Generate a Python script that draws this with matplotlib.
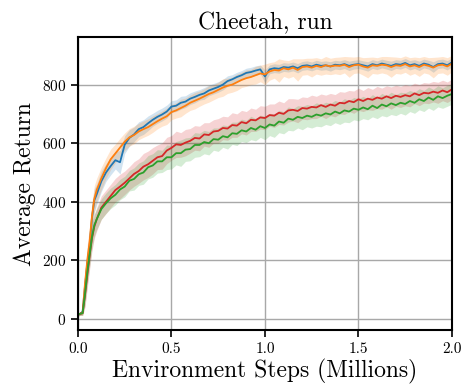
import matplotlib
matplotlib.use("Agg")
import matplotlib.pyplot as plt
import numpy as np

plt.rcParams["font.family"] = "serif"
plt.rcParams["font.serif"] = ["cmr10"]
plt.rcParams["mathtext.fontset"] = "cm"
plt.rcParams["axes.unicode_minus"] = False
plt.rcParams["axes.formatter.use_mathtext"] = True

# environment steps (millions): fine spacing at the start, then every 0.025
steps = np.concatenate([np.arange(0.0, 0.1, 0.0125), np.arange(0.1, 2.0001, 0.025)])

blue = [15, 18, 25, 110, 190, 250, 345, 405, 425, 470,
        500, 522, 542, 535, 595, 618, 630, 648, 655, 668,
        680, 690, 698, 708, 725, 728, 738, 742, 752, 758,
        765, 770, 780, 786, 792, 800, 812, 818, 826, 832,
        840, 843, 848, 852, 828, 852, 856, 854, 860, 858,
        862, 856, 864, 866, 862, 868, 864, 866, 862, 868,
        866, 870, 864, 868, 870, 866, 862, 870, 866, 872,
        868, 864, 870, 868, 874, 866, 870, 864, 872, 868,
        860, 870, 872, 866, 876]
blue_sd = [5, 5, 8, 40, 50, 50, 45, 40, 35, 35,
           30, 30, 30, 40, 30, 28, 25, 25, 25, 25,
           22, 22, 22, 22, 20, 20, 22, 20, 20, 20,
           18, 20, 18, 18, 18, 18, 18, 16, 16, 16,
           16, 16, 16, 15, 22, 15, 15, 15, 15, 15,
           15, 16, 15, 15, 15, 15, 15, 15, 16, 15,
           15, 15, 16, 15, 15, 15, 16, 15, 15, 15,
           15, 16, 15, 15, 15, 16, 15, 16, 15, 15,
           18, 15, 15, 16, 15]

orange = [15, 18, 22, 120, 200, 265, 350, 410, 440, 480,
          515, 545, 565, 585, 605, 620, 628, 640, 648, 655,
          665, 675, 684, 692, 706, 712, 720, 728, 738, 745,
          752, 760, 768, 774, 782, 790, 796, 800, 808, 816,
          822, 826, 832, 838, 835, 845, 850, 848, 856, 852,
          858, 850, 860, 862, 858, 864, 860, 866, 862, 865,
          864, 868, 860, 866, 868, 862, 858, 866, 864, 868,
          866, 860, 866, 864, 870, 862, 866, 860, 868, 864,
          858, 866, 868, 862, 872]
orange_sd = [5, 5, 8, 45, 55, 55, 50, 45, 40, 38,
             35, 35, 32, 32, 30, 30, 30, 28, 28, 28,
             28, 26, 26, 28, 26, 26, 30, 26, 26, 28,
             26, 26, 28, 26, 26, 30, 26, 26, 28, 26,
             28, 26, 30, 28, 35, 30, 28, 40, 28, 30,
             30, 38, 28, 28, 32, 28, 28, 30, 28, 28,
             30, 28, 35, 28, 28, 30, 35, 28, 28, 28,
             30, 35, 28, 28, 28, 30, 28, 32, 28, 28,
             35, 28, 28, 30, 28]

red = [15, 18, 20, 80, 150, 215, 275, 315, 340, 380,
       400, 420, 440, 452, 465, 480, 495, 505, 520, 528,
       540, 552, 556, 575, 584, 596, 594, 602, 608, 618,
       616, 630, 628, 640, 642, 652, 650, 662, 660, 672,
       668, 680, 678, 688, 686, 696, 694, 704, 700, 712,
       714, 710, 720, 718, 724, 722, 730, 724, 732, 728,
       738, 736, 744, 740, 750, 744, 752, 748, 756, 752,
       760, 754, 762, 758, 764, 760, 770, 764, 772, 770,
       776, 772, 780, 774, 784]
red_sd = [5, 5, 8, 40, 45, 45, 42, 40, 40, 40,
          40, 40, 40, 42, 40, 40, 42, 42, 45, 45,
          45, 42, 45, 45, 42, 45, 42, 45, 42, 42,
          42, 40, 42, 40, 42, 40, 40, 42, 40, 40,
          40, 40, 38, 40, 40, 38, 40, 40, 38, 40,
          38, 40, 38, 38, 40, 38, 38, 40, 38, 38,
          38, 38, 36, 38, 38, 36, 38, 36, 38, 36,
          36, 38, 36, 36, 36, 36, 35, 36, 35, 35,
          35, 36, 35, 35, 35]

green = [15, 18, 20, 85, 160, 220, 280, 320, 340, 375,
         395, 412, 424, 442, 452, 472, 478, 494, 500, 518,
         524, 538, 538, 552, 552, 566, 566, 578, 580, 594,
         594, 604, 600, 614, 612, 624, 620, 634, 632, 644,
         640, 652, 646, 658, 652, 664, 660, 674, 670, 684,
         680, 690, 686, 694, 690, 698, 694, 702, 698, 708,
         702, 712, 708, 718, 714, 722, 716, 728, 720, 732,
         726, 736, 730, 738, 734, 744, 738, 750, 744, 756,
         748, 760, 754, 762, 768]
green_sd = [5, 5, 8, 40, 45, 42, 40, 38, 35, 35,
            35, 35, 35, 35, 35, 35, 38, 38, 40, 40,
            40, 40, 38, 42, 40, 40, 45, 40, 40, 42,
            40, 40, 40, 38, 40, 38, 40, 38, 40, 38,
            38, 40, 38, 38, 40, 38, 40, 38, 38, 40,
            38, 38, 40, 38, 38, 40, 38, 38, 38, 38,
            38, 40, 38, 38, 38, 38, 36, 38, 36, 38,
            36, 38, 36, 36, 38, 36, 36, 36, 36, 36,
            36, 36, 35, 36, 35]

series = [(blue, blue_sd, "C0"), (orange, orange_sd, "C1"),
          (red, red_sd, "C3"), (green, green_sd, "C2")]

fig = plt.figure(figsize=(4.64, 3.87), dpi=100)
ax = fig.add_axes([0.168, 0.147, 0.806, 0.757])

for mean, sd, c in series:
    mean = np.asarray(mean, dtype=float)
    sd = np.asarray(sd, dtype=float)
    ax.fill_between(steps, mean - sd, mean + sd, color=c, alpha=0.2, lw=0)
for mean, sd, c in series:
    ax.plot(steps, mean, color=c, lw=1.3)

ax.set_xlim(0, 2.0)
ax.set_ylim(-38, 962)
ax.set_xticks([0, 0.5, 1.0, 1.5, 2.0])
ax.set_yticks([0, 200, 400, 600, 800])
ax.set_xticklabels(["0.0", "0.5", "1.0", "1.5", "2.0"])
ax.grid(True, color="#a8a8a8", lw=1.0)
ax.set_axisbelow(True)
for s in ax.spines.values():
    s.set_linewidth(1.5)
ax.tick_params(labelsize=11, width=1.2, length=5)

ax.set_title("Cheetah, run", fontsize=17, pad=6)
ax.set_xlabel("Environment Steps (Millions)", fontsize=17, labelpad=2)
ax.set_ylabel("Average Return", fontsize=17, labelpad=4)

fig.savefig("out.png", dpi=100)
